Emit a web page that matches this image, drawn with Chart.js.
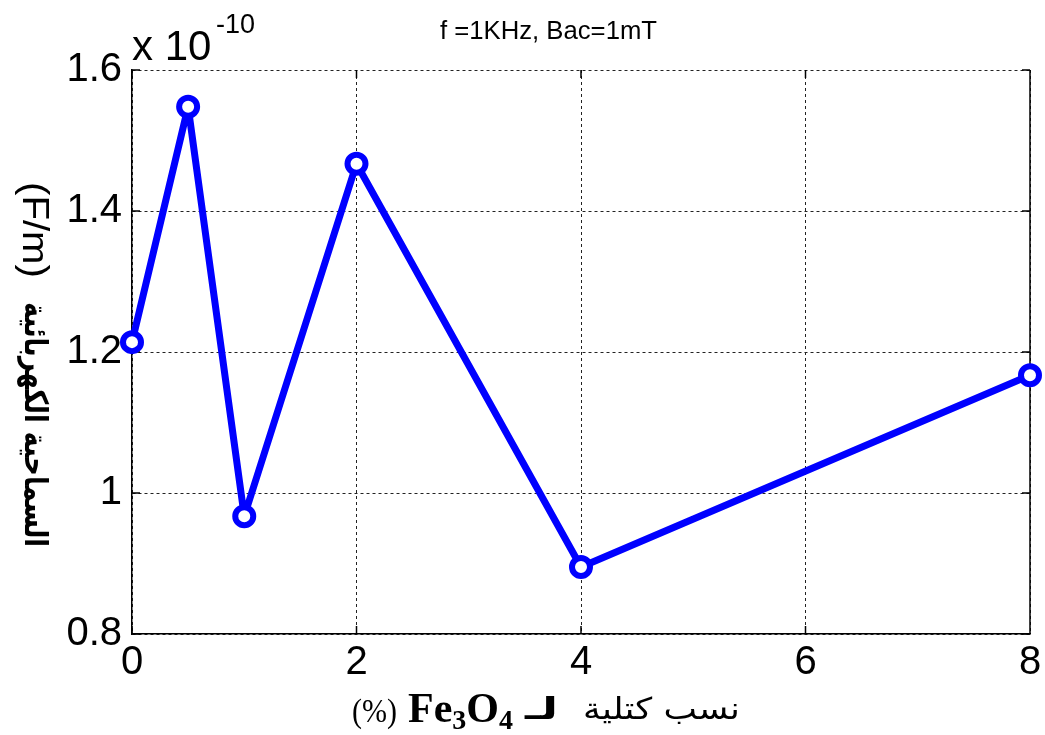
<!DOCTYPE html>
<html>
<head>
<meta charset="utf-8">
<script src="https://cdn.jsdelivr.net/npm/chart.js@4"></script>
<style>
  body { margin: 0; background: #fff; }
  canvas { display: block; }
</style>
</head>
<body>
<canvas id="permChart" width="1045" height="735"></canvas>
<script>
// Fe3O4 mass fraction (%)
const massPercent = [0, 0.5, 1, 2, 4, 8];
// permittivity, in units of 1e-10 F/m
const permittivity = [1.214, 1.548, 0.967, 1.467, 0.895, 1.167];
const xTicks = [0, 2, 4, 6, 8];
const yTicks = [0.8, 1.0, 1.2, 1.4, 1.6];

Chart.defaults.font.family = "'Liberation Sans', Arial, sans-serif";
Chart.defaults.color = "#000";

// squeeze or stretch a string so it covers a given width
function fitText(ctx, text, left, y, width, font) {
    ctx.font = font;
    const w = ctx.measureText(text).width;
    ctx.save();
    ctx.translate(left, y);
    ctx.scale(width / w, 1);
    ctx.textAlign = "left";
    ctx.fillText(text, 0, 0);
    ctx.restore();
}

const decorations = {
    id: "decorations",
    beforeDatasetsDraw(chart) {
        const { ctx, chartArea: a, scales: { x, y } } = chart;
        ctx.save();
        ctx.strokeStyle = "#000";
        ctx.lineWidth = 1.5;
        ctx.beginPath();
        // right edge of the box
        ctx.moveTo(a.right, a.top);
        ctx.lineTo(a.right, a.bottom);
        // small inward tick marks
        const len = 8;
        xTicks.forEach(v => {
            const px = x.getPixelForValue(v);
            ctx.moveTo(px, a.bottom); ctx.lineTo(px, a.bottom - len);
            ctx.moveTo(px, a.top); ctx.lineTo(px, a.top + len);
        });
        yTicks.forEach(v => {
            const py = y.getPixelForValue(v);
            ctx.moveTo(a.left, py); ctx.lineTo(a.left + len, py);
            ctx.moveTo(a.right, py); ctx.lineTo(a.right - len, py);
        });
        ctx.stroke();
        ctx.restore();
    },
    afterDraw(chart) {
        const ctx = chart.ctx;
        ctx.save();
        ctx.fillStyle = "#000";
        ctx.textBaseline = "alphabetic";

        // title
        fitText(ctx, "f =1KHz, Bac=1mT", 440, 39, 217, "26px 'Liberation Sans'");

        // exponent note
        ctx.textAlign = "left";
        ctx.font = "42px 'Liberation Sans'";
        ctx.fillText("x 10", 132, 60);
        ctx.font = "27px 'Liberation Sans'";
        ctx.fillText("-10", 216, 33);

        // x axis title, drawn piece by piece (right to left reading)
        fitText(ctx, "(%)", 352, 722, 45, "34px 'Liberation Serif'");
        let cx = 408;
        const parts = [["Fe", 42, 722], ["3", 28, 729], ["O", 42, 722], ["4", 28, 729]];
        parts.forEach(([t, size, base]) => {
            ctx.font = "bold " + size + "px 'Liberation Serif'";
            ctx.fillText(t, cx, base);
            cx += ctx.measureText(t).width;
        });
        fitText(ctx, "لـ", 525, 719, 33, "bold 30px 'DejaVu Sans'");
        fitText(ctx, "نسب كتلية", 583, 719, 157, "30px 'DejaVu Sans'");

        // y axis title, turned to read top to bottom
        ctx.save();
        ctx.translate(33, 0);
        ctx.rotate(Math.PI / 2);
        ctx.textBaseline = "middle";
        fitText(ctx, "(F/m)", 182, 0, 96, "36px 'Liberation Sans'");
        fitText(ctx, "السماحية الكهربائية", 302, 0, 245, "bold 32px 'DejaVu Sans'");
        ctx.restore();

        ctx.restore();
    }
};

new Chart(document.getElementById("permChart"), {
    type: "line",
    data: {
        datasets: [{
            data: massPercent.map((m, i) => ({ x: m, y: permittivity[i] })),
            borderColor: "#0000ff",
            borderWidth: 7,
            borderJoinStyle: "round",
            pointRadius: 9,
            pointBorderWidth: 6,
            pointBorderColor: "#0000ff",
            pointBackgroundColor: "#fff",
            tension: 0,
            clip: false
        }]
    },
    options: {
        responsive: false,
        animation: false,
        layout: { padding: { top: 70, right: 13, left: 0, bottom: 0 } },
        plugins: { legend: { display: false }, tooltip: { enabled: false } },
        scales: {
            x: {
                type: "linear",
                min: 0,
                max: 8,
                afterBuildTicks: s => { s.ticks = xTicks.map(v => ({ value: v })); },
                afterFit: s => { s.height = 101; s.paddingLeft = 0; s.paddingRight = 0; },
                grid: { color: "#222", lineWidth: 1, drawTicks: false },
                border: { display: true, color: "#000", width: 1.5, dash: [3, 3] },
                ticks: { font: { size: 40 }, padding: 5, maxRotation: 0, callback: v => String(v) }
            },
            y: {
                min: 0.8,
                max: 1.6,
                afterBuildTicks: s => { s.ticks = yTicks.map(v => ({ value: v })); },
                afterFit: s => { s.width = 132; s.paddingTop = 0; s.paddingBottom = 0; },
                grid: { color: "#222", lineWidth: 1, drawTicks: false },
                border: { display: true, color: "#000", width: 1.5, dash: [3, 3] },
                ticks: { font: { size: 40 }, padding: 10, callback: v => String(+v.toFixed(1)) }
            }
        }
    },
    plugins: [decorations]
});
</script>
</body>
</html>
